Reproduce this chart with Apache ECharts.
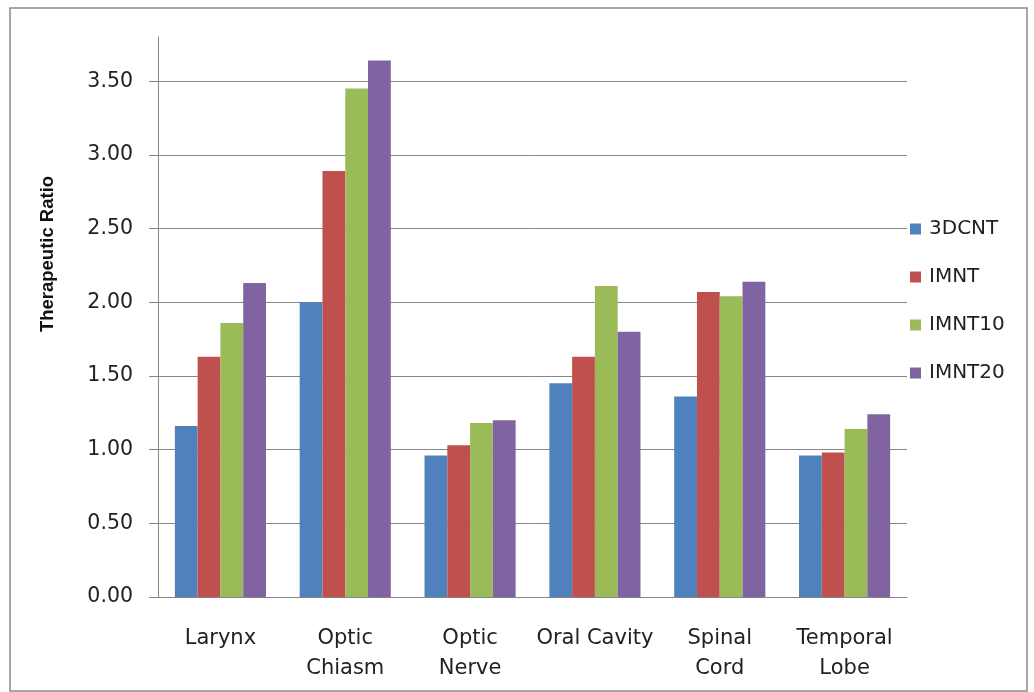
<!DOCTYPE html>
<html>
<head>
    <meta charset="utf-8">
    <title>Therapeutic Ratio</title>
    <script src="https://cdn.jsdelivr.net/npm/echarts@6/dist/echarts.min.js"></script>
    <style>
        html, body { margin: 0; padding: 0; background: #fff; }
        #chart { width: 1034px; height: 692px; }
    </style>
</head>
<body>
<div id="chart"></div>
<script>
    // 数据
    var organs = ['Larynx', 'Optic\nChiasm', 'Optic\nNerve', 'Oral Cavity', 'Spinal\nCord', 'Temporal\nLobe'];
    var seriesNames = ['3DCNT', 'IMNT', 'IMNT10', 'IMNT20'];
    var cnt3d = [1.16, 2.00, 0.96, 1.45, 1.36, 0.96];
    var imnt = [1.63, 2.89, 1.03, 1.63, 2.07, 0.98];
    var imnt10 = [1.86, 3.45, 1.18, 2.11, 2.04, 1.14];
    var imnt20 = [2.13, 3.64, 1.20, 1.80, 2.14, 1.24];
    var yTicks = [0, 0.5, 1, 1.5, 2, 2.5, 3, 3.5];
    var colors = ['#4F81BD', '#C0504D', '#9BBB59', '#8064A2'];

    var values = [cnt3d, imnt, imnt10, imnt20];
    var gray = '#868686';

    var myChart = echarts.init(document.getElementById('chart'));
    myChart.setOption({
        animation: false,
        color: colors,
        grid: { left: 158, right: 127, top: 37, bottom: 95, containLabel: false },
        legend: {
            orient: 'vertical',
            left: 905,
            top: 214,
            itemWidth: 11,
            itemHeight: 11,
            itemGap: 28,
            icon: 'rect',
            data: seriesNames,
            textStyle: {
                fontFamily: 'DejaVu Sans',
                fontSize: 20,
                color: '#222',
                padding: [0, 0, 0, 3]
            }
        },
        xAxis: {
            type: 'category',
            data: organs,
            axisLine: { lineStyle: { color: gray, width: 1 } },
            axisTick: { show: false },
            axisLabel: {
                interval: 0,
                margin: 27,
                fontFamily: 'DejaVu Sans',
                fontSize: 21,
                lineHeight: 30,
                color: '#222'
            }
        },
        yAxis: {
            type: 'value',
            min: 0,
            max: 3.8,
            interval: 0.5,
            axisLine: { show: true, lineStyle: { color: gray, width: 1 } },
            axisTick: { show: true, inside: false, length: 9, customValues: yTicks, lineStyle: { color: gray } },
            axisLabel: {
                margin: 25,
                customValues: yTicks,
                fontFamily: 'DejaVu Sans',
                fontSize: 20.5,
                color: '#222',
                formatter: function (v) { return v.toFixed(2); }
            },
            splitLine: { show: true, lineStyle: { color: gray, width: 1 } }
        },
        graphic: [
            {
                type: 'rect',
                shape: { x: 10, y: 8, width: 1017, height: 683 },
                style: { fill: 'none', stroke: '#8a8a8a', lineWidth: 1.5 },
                silent: true
            },
            {
                type: 'text',
                x: 48,
                y: 254,
                rotation: Math.PI / 2,
                style: {
                    text: 'Therapeutic Ratio',
                    font: 'bold 18.5px "Liberation Sans", sans-serif',
                    fill: '#111',
                    textAlign: 'center',
                    textVerticalAlign: 'middle'
                }
            }
        ],
        series: seriesNames.map(function (name, i) {
            return {
                name: name,
                type: 'bar',
                data: values[i],
                barGap: '0%',
                barCategoryGap: '27%',
                itemStyle: { color: colors[i] }
            };
        })
    });
</script>
</body>
</html>
